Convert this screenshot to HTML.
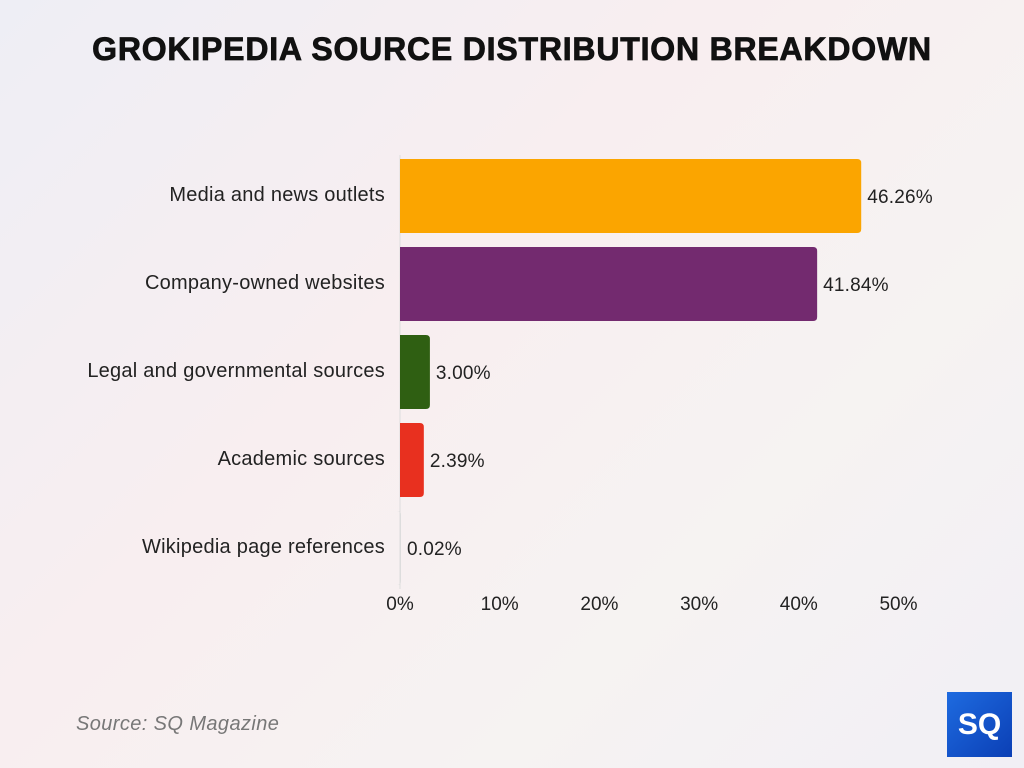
<!DOCTYPE html>
<html><head><meta charset="utf-8"><style>
body{margin:0;width:1024px;height:768px;overflow:hidden;background:linear-gradient(135deg,#eeeef5 0%,#f8eef0 40%,#f6f3f2 70%,#f1eff5 100%);font-family:"Liberation Sans",sans-serif;position:relative}
#title{position:absolute;top:31px;left:0;width:1024px;text-align:center;font-weight:900;font-size:32px;letter-spacing:0.8px;color:#111;-webkit-text-stroke:0.8px #111}
#src{position:absolute;left:76px;top:713px;font-style:italic;font-size:20px;letter-spacing:0.4px;color:#777}
#logo{position:absolute;left:947px;top:692px;width:65px;height:65px;background:linear-gradient(135deg,#1e6be0,#0b3fb5);color:#fff;font-weight:bold;font-size:30px;display:flex;align-items:center;justify-content:center}
</style></head><body>
<div id="title">GROKIPEDIA SOURCE DISTRIBUTION BREAKDOWN</div>
<svg id="chart" width="1024" height="768" style="position:absolute;left:0;top:0"></svg>
<div id="src">Source: SQ Magazine</div>
<div id="logo">SQ</div>
<script>
const categories=["Media and news outlets","Company-owned websites","Legal and governmental sources","Academic sources","Wikipedia page references"];
const values=[46.26,41.84,3.00,2.39,0.02];
const colors=["#fba500","#732a6f","#2f5f12","#e8301f","#ddd"];
const ticks=[0,10,20,30,40,50];
const svg=document.getElementById('chart');
const NS="http://www.w3.org/2000/svg";
const x0=400,pxPer=9.97,yTop=159,step=88,bh=74;
const xs=v=>x0+v*pxPer;
function mk(t,a){const e=document.createElementNS(NS,t);for(const k in a)e.setAttribute(k,a[k]);svg.appendChild(e);return e;}
const ax=mk('line',{x1:x0,x2:x0,y1:yTop-4,y2:yTop+4*step+bh+4,stroke:'#ddd','stroke-width':1});


categories.forEach((c,i)=>{
 const y=yTop+i*step;
 const w=Math.max(xs(values[i])-x0,1);
 const r=mk('path',{d:`M${x0} ${y}H${x0+w-4}Q${x0+w} ${y} ${x0+w} ${y+4}V${y+bh-4}Q${x0+w} ${y+bh} ${x0+w-4} ${y+bh}H${x0}Z`,fill:colors[i]});
 
 
 const l=mk('text',{x:385,y:y+bh/2+5,'text-anchor':'end','font-size':20,'letter-spacing':0.25,fill:'#222'});l.textContent=c;
 
 
 const v=mk('text',{x:x0+w+6,y:y+bh/2+7,'font-size':19,'letter-spacing':0.2,fill:'#222'});v.textContent=values[i].toFixed(2)+'%';
 
 
});
ticks.forEach(t=>{
 const e=mk('text',{x:xs(t),y:610,'text-anchor':'middle','font-size':19,fill:'#222'});e.textContent=t+'%';
 
 
});
</script>
</body></html>
